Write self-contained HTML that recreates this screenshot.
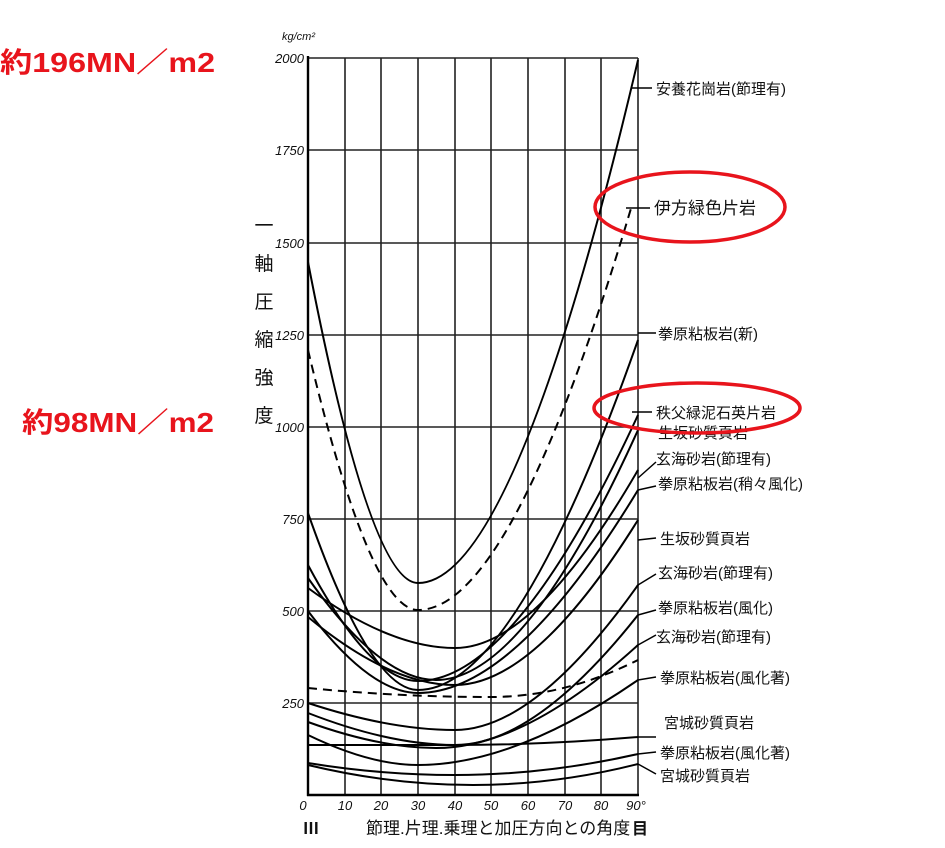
<!DOCTYPE html>
<html><head><meta charset="utf-8"><style>
body{margin:0;background:#fff;}
svg{display:block}
</style></head><body>
<svg width="945" height="848" viewBox="0 0 945 848" xmlns="http://www.w3.org/2000/svg" font-family="Liberation Sans, Noto Sans CJK JP, sans-serif">
<rect width="945" height="848" fill="#fff"/>
<g stroke="#222" stroke-width="1.6">
<line x1="308" y1="58" x2="638" y2="58"/><line x1="308" y1="150" x2="638" y2="150"/><line x1="308" y1="243" x2="638" y2="243"/><line x1="308" y1="335" x2="638" y2="335"/><line x1="308" y1="427" x2="638" y2="427"/><line x1="308" y1="519" x2="638" y2="519"/><line x1="308" y1="611" x2="638" y2="611"/><line x1="308" y1="703" x2="638" y2="703"/>
<line x1="345" y1="58" x2="345" y2="795"/><line x1="381" y1="58" x2="381" y2="795"/><line x1="418" y1="58" x2="418" y2="795"/><line x1="455" y1="58" x2="455" y2="795"/><line x1="491" y1="58" x2="491" y2="795"/><line x1="528" y1="58" x2="528" y2="795"/><line x1="565" y1="58" x2="565" y2="795"/><line x1="601" y1="58" x2="601" y2="795"/><line x1="638" y1="58" x2="638" y2="795"/>
</g>
<g stroke="#000" stroke-width="2.4"><line x1="308" y1="56" x2="308" y2="796"/><line x1="307" y1="795" x2="639" y2="795"/></g>
<g fill="none" stroke="#000" stroke-width="2">
<path d="M308,262 Q370,583 418,583 Q515,583 638,60"/>
<path d="M308,350 Q370,610 418,610 Q512,610 632,205" stroke-dasharray="9,6"/>
<path d="M308,513 Q370,690 418,690 Q515,690 638,340"/>
<path d="M308,565 Q370,681 418,681 Q515,681 638,415"/>
<path d="M308,578 Q380,680 436,680 Q525,680 638,430"/>
<path d="M308,588 Q390,648 455,648 Q535,648 638,470"/>
<path d="M308,611 Q370,693 418,693 Q515,693 638,490"/>
<path d="M308,617 Q390,685 455,685 Q535,685 638,520"/>
<path d="M308,688 Q399,697 491,697 Q564,697 638,660" stroke-dasharray="9,6"/>
<path d="M308,703 Q390,730 455,730 Q535,730 638,585"/>
<path d="M308,713 Q390,745 455,745 Q535,745 638,615"/>
<path d="M308,722 Q380,748 436,748 Q525,748 638,645"/>
<path d="M308,735 Q370,765 418,765 Q515,765 638,680"/>
<path d="M308,745 Q381,745 455,745 Q546,745 638,737"/>
<path d="M308,763 Q381,775 455,775 Q546,775 638,754"/>
<path d="M308,765 Q391,785 473,785 Q555,785 638,764"/>
</g>
<g stroke="#000" stroke-width="1.5">
<line x1="632" y1="88" x2="652" y2="88"/><line x1="626" y1="208" x2="650" y2="208"/><line x1="638" y1="333" x2="656" y2="333"/><line x1="632" y1="412" x2="652" y2="412"/><line x1="638" y1="478" x2="656" y2="462"/><line x1="638" y1="490" x2="656" y2="486"/><line x1="638" y1="540" x2="656" y2="538"/><line x1="638" y1="585" x2="656" y2="574"/><line x1="638" y1="615" x2="656" y2="610"/><line x1="638" y1="645" x2="656" y2="635"/><line x1="638" y1="680" x2="656" y2="677"/><line x1="638" y1="737" x2="656" y2="737"/><line x1="638" y1="754" x2="656" y2="752"/><line x1="638" y1="764" x2="656" y2="774"/>
</g>
<g font-size="15" fill="#111">
<text x="656" y="94">安養花崗岩(節理有)</text>
<text x="654" y="214" font-size="17">伊方緑色片岩</text>
<text x="658" y="339">拳原粘板岩(新)</text>
<text x="656" y="418">秩父緑泥石英片岩</text>
<text x="658" y="438">生坂砂質頁岩</text>
<text x="656" y="464">玄海砂岩(節理有)</text>
<text x="658" y="489">拳原粘板岩(稍々風化)</text>
<text x="660" y="544">生坂砂質頁岩</text>
<text x="658" y="578">玄海砂岩(節理有)</text>
<text x="658" y="613">拳原粘板岩(風化)</text>
<text x="656" y="642">玄海砂岩(節理有)</text>
<text x="660" y="683">拳原粘板岩(風化著)</text>
<text x="664" y="728">宮城砂質頁岩</text>
<text x="660" y="758">拳原粘板岩(風化著)</text>
<text x="660" y="781">宮城砂質頁岩</text>
</g>
<g font-size="13" font-style="italic" fill="#111" text-anchor="end">
<text x="304" y="63">2000</text><text x="304" y="155">1750</text><text x="304" y="248">1500</text><text x="304" y="340">1250</text><text x="304" y="432">1000</text><text x="304" y="524">750</text><text x="304" y="616">500</text><text x="304" y="708">250</text>
</g>
<text x="282" y="40" font-size="11" font-style="italic" fill="#111">kg/cm²</text>
<g font-size="13" font-style="italic" fill="#111" text-anchor="middle">
<text x="303" y="810">0</text><text x="345" y="810">10</text><text x="381" y="810">20</text><text x="418" y="810">30</text><text x="455" y="810">40</text><text x="491" y="810">50</text><text x="528" y="810">60</text><text x="565" y="810">70</text><text x="601" y="810">80</text><text x="636" y="810">90°</text>
</g>
<g font-size="19" fill="#111" text-anchor="middle">
<text x="264" y="232">一</text><text x="264" y="270">軸</text><text x="264" y="308">圧</text><text x="264" y="346">縮</text><text x="264" y="384">強</text><text x="264" y="422">度</text>
</g>
<text x="366" y="834" font-size="17" fill="#111">節理.片理.乗理と加圧方向との角度</text>
<text x="303" y="834" font-size="16" fill="#111" font-weight="bold">Ⅲ</text>
<text x="632" y="834" font-size="16" fill="#111" font-weight="bold">目</text>
<g fill="none" stroke="#e8141c" stroke-width="3.5">
<ellipse cx="690" cy="207" rx="95" ry="35"/>
<ellipse cx="697" cy="408" rx="103" ry="25"/>
</g>
<g font-size="28" font-weight="bold" fill="#e8141c">
<text x="0" y="72" textLength="215" lengthAdjust="spacingAndGlyphs">約196MN／m2</text>
<text x="22" y="432" textLength="192" lengthAdjust="spacingAndGlyphs">約98MN／m2</text>
</g>
</svg>
</body></html>
